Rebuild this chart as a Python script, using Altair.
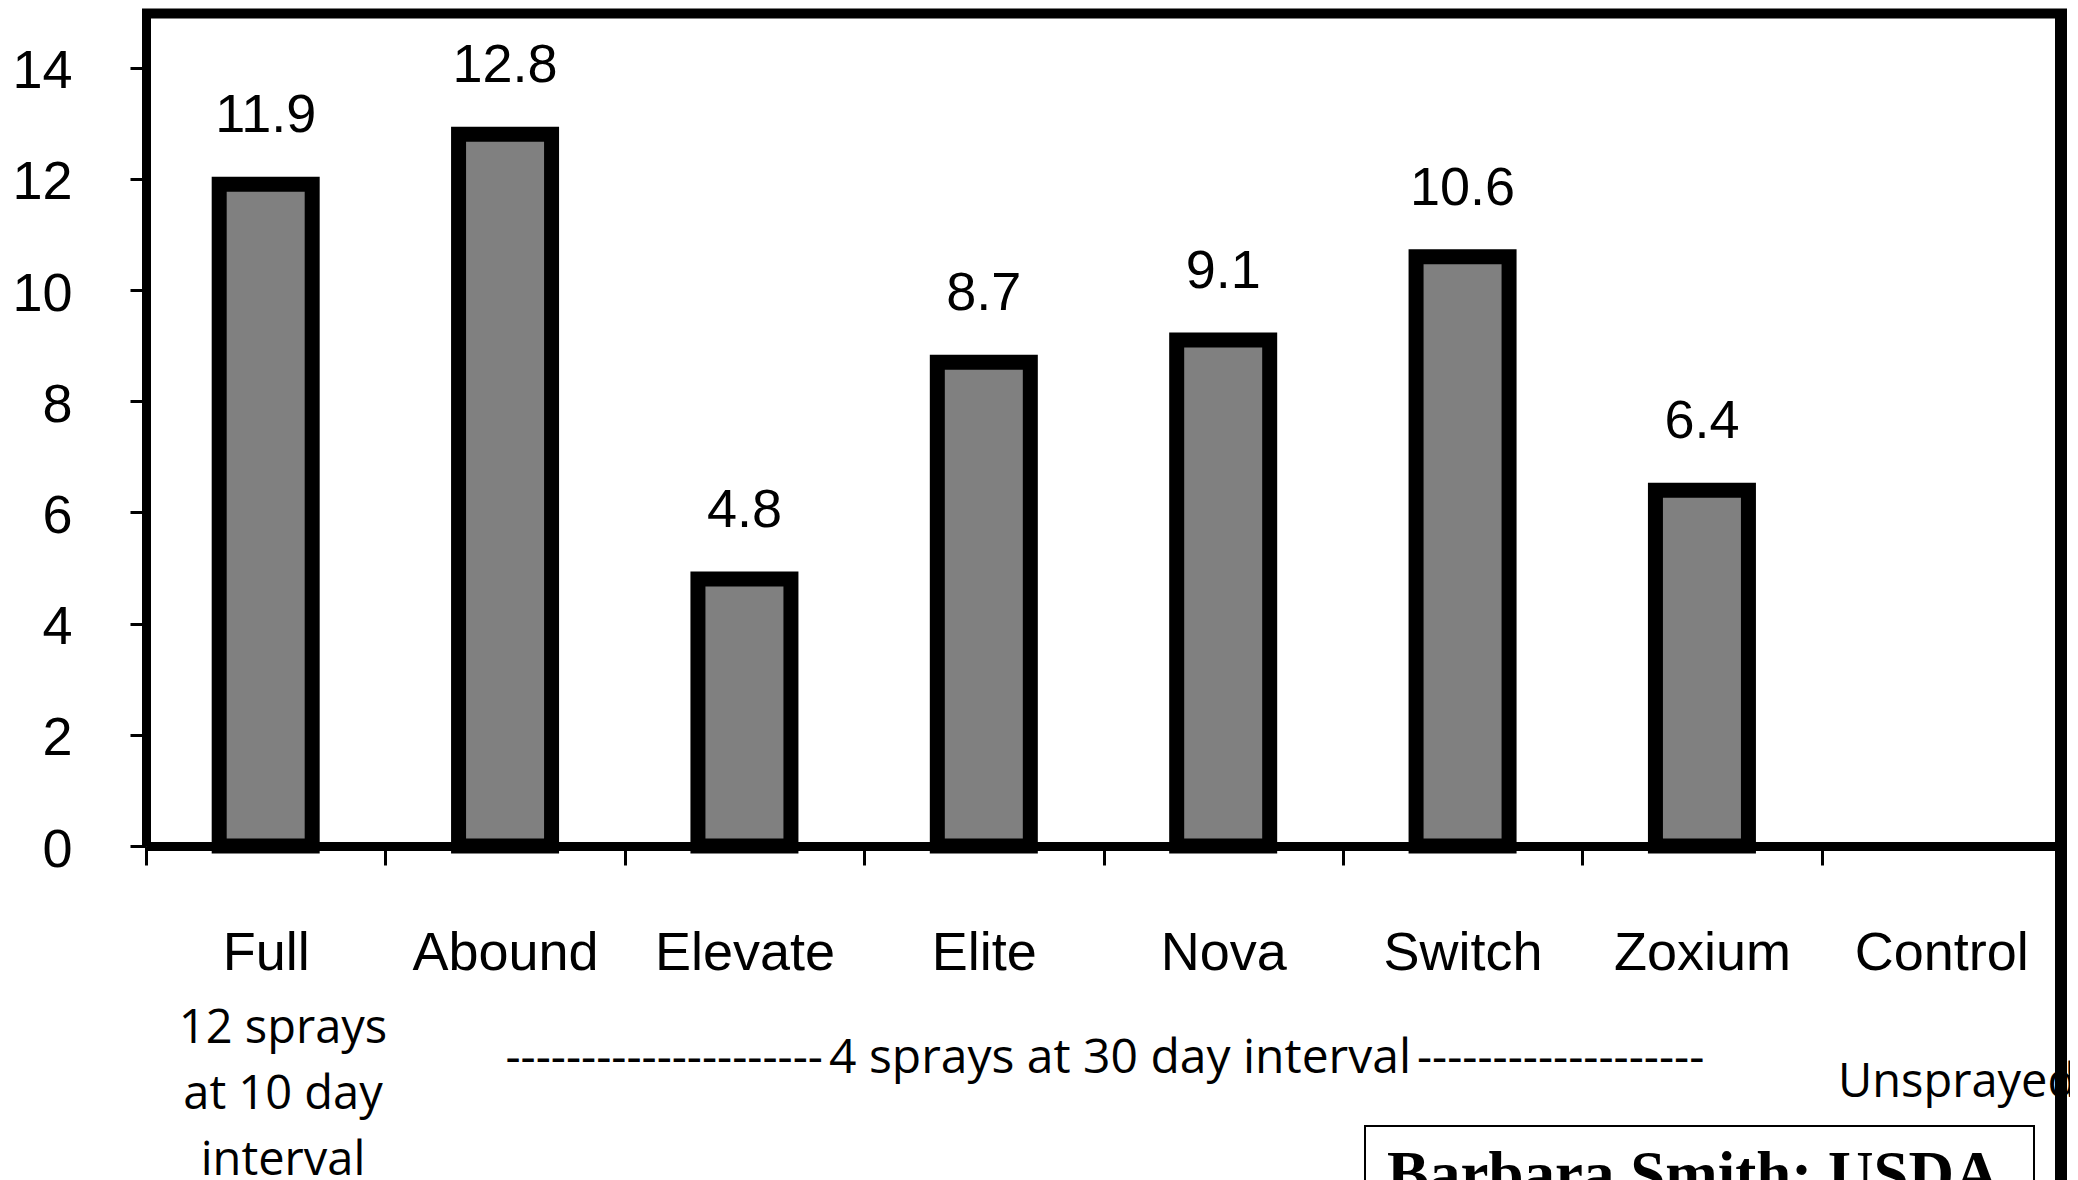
import altair as alt
import pandas as pd

# ---- data ----
categories = ["Full", "Abound", "Elevate", "Elite", "Nova", "Switch", "Zoxium", "Control"]
values = [11.9, 12.8, 4.8, 8.7, 9.1, 10.6, 6.4, None]
value_labels = ["11.9", "12.8", "4.8", "8.7", "9.1", "10.6", "6.4", ""]
y_ticks = [0, 2, 4, 6, 8, 10, 12, 14]
y_max = 15

note_full = "12 sprays\nat 10 day\ninterval"
note_left_dashes = "-" * 21
note_middle = "4 sprays at 30 day interval"
note_right_dashes = "-" * 19
note_control = "Unsprayed"
credit = "Barbara Smith: USDA"

df = pd.DataFrame({"treatment": categories, "value": values, "label": value_labels})
one = pd.DataFrame({"k": [0]})

W, H = 1915, 834

x_scale = alt.Scale(domain=categories, paddingInner=0, paddingOuter=0)
y_scale = alt.Scale(domain=[0, y_max], nice=False, zero=True)

x_axis = alt.Axis(
    title=None, labelAngle=0, labelFont="Liberation Sans", labelFontSize=54,
    labelColor="black", tickBand="extent", tickSize=19, tickWidth=3,
    tickColor="black", domainColor="black", domainWidth=9, labelPadding=61,
    labelLimit=0, grid=False,
)
y_axis = alt.Axis(
    title=None, values=y_ticks, labelFont="Liberation Sans", labelFontSize=54,
    labelColor="black", tickSize=16, tickWidth=3, tickColor="black",
    domainColor="black", domainWidth=9, labelPadding=58, labelOffset=4,
    grid=False,
)

base = alt.Chart(df).transform_filter("datum.value != null")

bars = base.mark_bar(size=93, fill="#808080", stroke="black", strokeWidth=15).encode(
    x=alt.X("treatment:N", scale=x_scale, axis=x_axis, sort=categories),
    y=alt.Y("value:Q", scale=y_scale, axis=y_axis),
)

labels = base.mark_text(
    dy=-52, baseline="alphabetic", align="center", fontSize=54,
    font="Liberation Sans", color="black",
).encode(
    x=alt.X("treatment:N", scale=x_scale, sort=categories),
    y=alt.Y("value:Q", scale=y_scale),
    text="label:N",
)

ann_font = "Open Sans"
ann_size = 47

t_full = alt.Chart(one).mark_text(
    text=note_full, lineBreak="\n", lineHeight=66, align="center",
    baseline="alphabetic", font=ann_font, fontSize=ann_size, color="black",
).encode(x=alt.value(137), y=alt.value(1031))

t_ld = alt.Chart(one).mark_text(
    text=note_left_dashes, align="right", baseline="alphabetic",
    font=ann_font, fontSize=ann_size, color="black",
).encode(x=alt.value(677), y=alt.value(1061))

t_mid = alt.Chart(one).mark_text(
    text=note_middle, align="center", baseline="alphabetic",
    font=ann_font, fontSize=ann_size + 1, color="black",
).encode(x=alt.value(974), y=alt.value(1061))

t_rd = alt.Chart(one).mark_text(
    text=note_right_dashes, align="left", baseline="alphabetic",
    font=ann_font, fontSize=ann_size, color="black",
).encode(x=alt.value(1271), y=alt.value(1061))

t_ctrl = alt.Chart(one).mark_text(
    text=note_control, align="left", baseline="alphabetic",
    font=ann_font, fontSize=ann_size, color="black",
).encode(x=alt.value(1692), y=alt.value(1085))

box = alt.Chart(one).mark_rect(fill="white", stroke="black", strokeWidth=2).encode(
    x=alt.value(1219), x2=alt.value(1888), y=alt.value(1114), y2=alt.value(1400)
)

t_credit = alt.Chart(one).mark_text(
    text=credit, align="left", baseline="alphabetic", font="Liberation Serif",
    fontWeight="bold", fontSize=63, color="black",
).encode(x=alt.value(1241), y=alt.value(1183))

top_border = alt.Chart(one).mark_rule(color="black", strokeWidth=10).encode(
    x=alt.value(-4), x2=alt.value(1921), y=alt.value(1.5), y2=alt.value(1.5)
)
right_border = alt.Chart(one).mark_rule(color="black", strokeWidth=12).encode(
    x=alt.value(1915), x2=alt.value(1915), y=alt.value(-3), y2=alt.value(1400)
)

chart = alt.layer(
    bars, labels, t_full, t_ld, t_mid, t_rd, t_ctrl, box, t_credit,
    top_border, right_border,
).properties(
    width=W, height=H,
    autosize=alt.AutoSizeParams(type="none"),
    padding={"left": 138, "top": 4, "right": 9, "bottom": 334},
    background="white",
).configure_view(stroke=None)

chart.save("out.html", embed_options={"renderer": "svg", "actions": False})
